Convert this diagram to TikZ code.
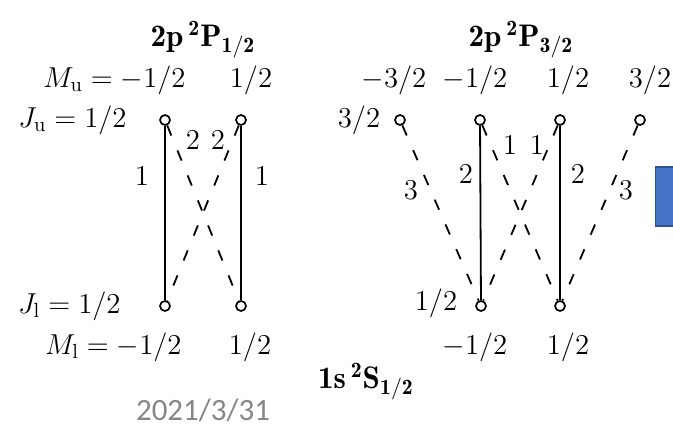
\documentclass[tikz,border=0pt]{standalone}
\usepackage{amsmath}
\usepackage{fontspec}
\newfontfamily\datefont{Carlito}
\usepackage{xcolor}
\usetikzlibrary{arrows.meta, calc}

\definecolor{slideblue}{HTML}{4472C4}
\definecolor{slideedge}{HTML}{2F528F}

\tikzset{
    level/.style={circle, draw, line width=0.85pt, fill=white, inner sep=0pt, minimum size=5pt},
    lbl/.style={font=\fontsize{14.6}{17}\selectfont, inner sep=1pt},
    term/.style={font=\fontsize{15.6}{18}\selectfont, inner sep=1pt},
    pi/.style={line width=0.9pt},
    sigma/.style={line width=0.9pt, dash pattern=on 5.5pt off 8pt},
}

\begin{document}
\begin{tikzpicture}[x=0.5pt, y=-0.5pt]

    \useasboundingbox (0,0) rectangle (673,426);

    % --- 1. LEVEL HEIGHTS ---
    \def\yUp{120}
    \def\yLow{306}

    % --- 2. LEFT PANEL: 2p 2P_{1/2} -> 1s 2S_{1/2} ---
    \node[term] (termA) at (203,40) {$\mathbf{2p\,{}^2P_{1/2}}$};
    \node[lbl, anchor=east] (muA) at (188,80) {$M_\mathrm{u} = -1/2$};
    \node[lbl] (muB) at (251,80) {$1/2$};
    \node[lbl, anchor=east] (ju) at (129,\yUp) {$J_\mathrm{u} = 1/2$};

    \node[level] (ua1) at (165,\yUp) {};
    \node[level] (ua2) at (241,\yUp) {};
    \node[level] (la1) at (165,\yLow) {};
    \node[level] (la2) at (241,\yLow) {};

    \node[lbl, anchor=east] (jl) at (123,\yLow) {$J_\mathrm{l} = 1/2$};
    \node[lbl, anchor=east] (mlA) at (184,347) {$M_\mathrm{l} = -1/2$};
    \node[lbl] (mlB) at (250,347) {$1/2$};

    % transitions
    \draw[pi] (la1) -- (ua1);
    \draw[pi] (la2) -- (ua2);
    \draw[sigma] (ua1) -- (la2);
    \draw[sigma] (ua2) -- (la1);

    % strengths
    \node[lbl] (sA1) at (142,176) {$1$};
    \node[lbl] (sA2) at (262,176) {$1$};
    \node[lbl] (sA3) at (193,140) {$2$};
    \node[lbl] (sA4) at (218,140) {$2$};

    % --- 3. RIGHT PANEL: 2p 2P_{3/2} -> 1s 2S_{1/2} ---
    \node[term] (termB) at (521,40) {$\mathbf{2p\,{}^2P_{3/2}}$};
    \node[lbl] (mB1) at (394,80) {$-3/2$};
    \node[lbl] (mB2) at (475,80) {$-1/2$};
    \node[lbl] (mB3) at (568,80) {$1/2$};
    \node[lbl] (mB4) at (650,80) {$3/2$};
    \node[lbl] (jB) at (359,\yUp) {$3/2$};

    \node[level] (ub1) at (400,\yUp) {};
    \node[level] (ub2) at (480,\yUp) {};
    \node[level] (ub3) at (560,\yUp) {};
    \node[level] (ub4) at (640,\yUp) {};
    \node[level] (lb1) at (481,\yLow) {};
    \node[level] (lb2) at (560,\yLow) {};

    \node[lbl] (jlB) at (436,303) {$1/2$};
    \node[lbl] (mlB1) at (475,347) {$-1/2$};
    \node[lbl] (mlB2) at (568,347) {$1/2$};
    \node[term] (termS) at (366,382) {$\mathbf{1s\,{}^2S_{1/2}}$};

    % transitions
    \draw[pi] (lb1) -- (ub2);
    \draw[pi] (lb2) -- (ub3);
    \draw[sigma] (ub1) -- (lb1);
    \draw[sigma] (ub2) -- (lb2);
    \draw[sigma] (ub3) -- (lb1);
    \draw[sigma] (ub4) -- (lb2);

    % strengths
    \node[lbl] (sB1) at (411,190) {$3$};
    \node[lbl] (sB2) at (466,174) {$2$};
    \node[lbl] (sB3) at (510,145) {$1$};
    \node[lbl] (sB4) at (537,145) {$1$};
    \node[lbl] (sB5) at (578,174) {$2$};
    \node[lbl] (sB6) at (626,190) {$3$};

    % --- 4. SLIDE DECORATIONS ---
    \node[font=\datefont\fontsize{15.5}{18}\selectfont, text=gray!95, inner sep=0pt] (date) at (203,410) {2021/3/31};
    \filldraw[fill=slideblue, draw=slideedge, line width=0.6pt] (655.5,167) rectangle (680,226);

\end{tikzpicture}
\end{document}
